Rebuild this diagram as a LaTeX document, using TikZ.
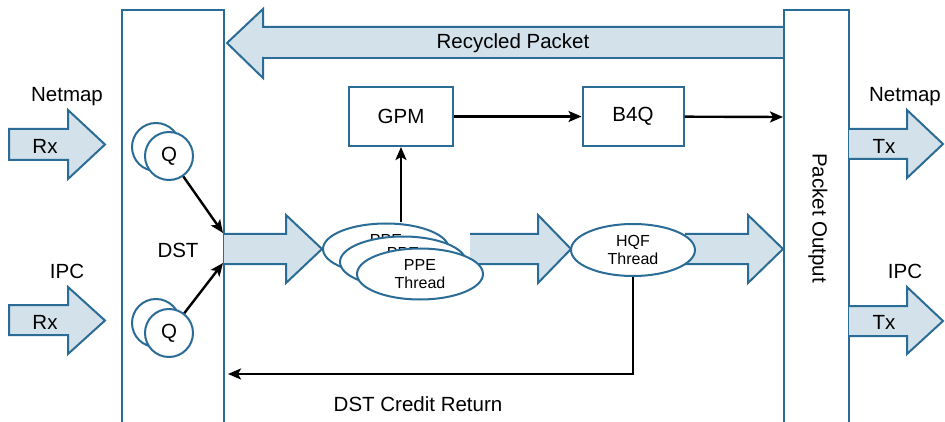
\documentclass[tikz,border=0pt]{standalone}
\usepackage{fontspec}
\setmainfont{Liberation Sans}
\usetikzlibrary{arrows.meta}
\definecolor{pblue}{RGB}{42,108,150}
\definecolor{pfill}{RGB}{211,225,234}
\tikzset{
  fat/.style={draw=pblue, fill=pfill, line width=2pt, line join=miter},
  frame/.style={draw=pblue, line width=2pt},
  box/.style={draw=pblue, line width=2pt, fill=white, minimum width=104pt, minimum height=59pt, inner sep=0pt, font=\fontsize{20.5}{22}\selectfont},
  qc/.style={circle, draw=pblue, line width=2pt, fill=white, minimum size=48pt, inner sep=0pt, font=\fontsize{20.5}{22}\selectfont},
  thr/.style={ellipse, draw=pblue, line width=2pt, fill=white, minimum width=126pt, minimum height=51pt, inner sep=0pt, align=center, font=\fontsize{16}{18}\selectfont},
  lbl/.style={font=\fontsize{20.5}{22}\selectfont, inner sep=0pt},
  arr/.style={draw=black, line width=2.4pt, -{Stealth[length=13pt,width=11pt,inset=3pt]}},
}
\usetikzlibrary{shapes.geometric}
\begin{document}
\begin{tikzpicture}[x=1pt,y=-1pt]
\useasboundingbox (0,0) rectangle (945,422);
% recycled packet arrow
\draw[fat] (784,27) -- (263,27) -- (263,9) -- (227,43) -- (263,78) -- (263,58) -- (784,58);
\fill[pfill] (264,29) rectangle (783,57);
\node[lbl] (rec) at (513,43) {Recycled Packet};
% DST frame
\draw[frame] (122,423) -- (122,10) -- (224,10) -- (224,423);
\node[lbl] (dst) at (178,250) {DST};
% Packet output frame
\draw[frame] (784,423) -- (784,10) -- (849,10) -- (849,423);
\node[lbl, rotate=-90] (po) at (818,218) {Packet Output};
% Rx arrows
\draw[fat] (9,129) -- (68,129) -- (68,110) -- (105,144.5) -- (68,179) -- (68,160) -- (9,160) -- cycle;
\node[lbl] (rx1) at (45,146) {Rx};
\node[lbl] (nm1) at (67,97) {Netmap};
\draw[fat] (9,305) -- (68,305) -- (68,287) -- (105,320.5) -- (68,354) -- (68,335) -- (9,335) -- cycle;
\node[lbl] (rx2) at (45,322) {Rx};
\node[lbl] (ipc1) at (67,271) {IPC};
% Tx arrows
\draw[fat] (849,129) -- (907,129) -- (907,110) -- (943,144) -- (907,178) -- (907,159) -- (849,159);
\node[lbl] (tx1) at (884,146) {Tx};
\node[lbl] (nm2) at (905,97) {Netmap};
\draw[fat] (849,306) -- (907,306) -- (907,287) -- (943,321) -- (907,354) -- (907,336) -- (849,336);
\node[lbl] (tx2) at (884,322) {Tx};
\node[lbl] (ipc2) at (905,271) {IPC};
% Q circles
\node[qc] (q1b) at (156,147) {};
\node[qc] (q1) at (169,156) {Q};
\node[qc] (q2b) at (156,323) {};
\node[qc] (q2) at (169,333) {Q};
\coordinate (d1) at (223,233);
\coordinate (d2) at (223,263);
\draw[arr] (q1) -- (d1);
\draw[arr] (q2) -- (d2);
% middle fat arrows
\draw[fat] (224,234) -- (286,234) -- (286,215) -- (322,249) -- (286,283) -- (286,264) -- (224,264);
\draw[fat] (470,234) -- (538,234) -- (538,215) -- (571,249) -- (538,283) -- (538,264) -- (470,264);
\draw[fat] (685,234) -- (748,234) -- (748,215) -- (783,249) -- (748,283) -- (748,264) -- (685,264);
% PPE threads
\node[thr] (ppe1) at (386,249) {PPE\\Thread};
\node[thr] (ppe2) at (403,262) {PPE\\Thread};
\node[thr] (ppe3) at (420,274) {PPE\\Thread};
% HQF
\node[thr, minimum width=124pt, minimum height=52pt] (hqf) at (633,250) {HQF\\Thread};
% boxes
\node[box] (gpm) at (401,116.5) {GPM};
\node[box, minimum width=101pt] (b4q) at (633,116.5) {B4Q};
\coordinate (poin) at (783,117);
\draw[arr] (gpm) -- (b4q);
\draw[arr] (b4q) -- (poin);
\draw[arr] (ppe1.north -| gpm.south) -- (gpm.south);
% credit return
\coordinate (cr) at (228,374);
\draw[arr] (hqf.south) |- (cr);
\node[lbl] (crt) at (418,404) {DST Credit Return};
\end{tikzpicture}
\end{document}
